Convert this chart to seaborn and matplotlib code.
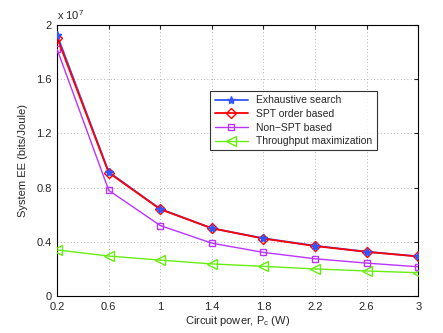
import numpy as np
import pandas as pd
import matplotlib
matplotlib.use("Agg")
import matplotlib.pyplot as plt
import seaborn as sns

pc = [0.2, 0.6, 1.0, 1.4, 1.8, 2.2, 2.6, 3.0]
exhaustive = [1.925, 0.915, 0.642, 0.50, 0.426, 0.371, 0.327, 0.293]
spt = [1.905, 0.910, 0.640, 0.50, 0.424, 0.369, 0.326, 0.292]
nonspt = [1.82, 0.78, 0.52, 0.39, 0.322, 0.275, 0.243, 0.216]
throughput = [0.34, 0.295, 0.265, 0.237, 0.219, 0.200, 0.185, 0.172]
labels = ["Exhaustive search", "SPT order based", "Non\u2212SPT based", "Throughput maximization"]
xticks = [0.2, 0.6, 1, 1.4, 1.8, 2.2, 2.6, 3]
yticks = [0, 0.4, 0.8, 1.2, 1.6, 2.0]

sns.set_style("white")
plt.rcParams['font.family'] = ['Liberation Sans', 'DejaVu Sans']

fig = plt.figure(figsize=(4.43, 3.33), dpi=100)
ax = fig.add_axes([0.129, 0.111, 0.815, 0.814])

series = [exhaustive, spt, nonspt, throughput]
colors = ["#3355ff", "#ff0000", "#bb33ff", "#66ee11"]
markers = ["*", "D", "s", "<"]
msizes = [6, 5, 5, 7]
rows = []
for lab, vals in zip(labels, series):
    for x, v in zip(pc, vals):
        rows.append({"pc": x, "ee": v * 1e7, "method": lab})
df = pd.DataFrame(rows)

order = [3, 2, 0, 1]
for i in order:
    sub = df[df.method == labels[i]]
    sns.lineplot(data=sub, x="pc", y="ee", ax=ax, color=colors[i], marker=markers[i],
                 markersize=msizes[i], markerfacecolor="none" if i != 0 else colors[i],
                 markeredgecolor=colors[i], markeredgewidth=1.0, linewidth=1.3 if i < 2 else 1.0,
                 label=labels[i], zorder=3 + i if i < 2 else 3)
# blue star markers on top of red diamonds
ax.plot(pc, [v * 1e7 for v in exhaustive], linestyle="none", marker="*", markersize=6,
        color=colors[0], zorder=6)

h, l = ax.get_legend_handles_labels()
hmap = dict(zip(l, h))
leg = ax.legend([hmap[k] for k in labels], labels, loc="upper left",
                bbox_to_anchor=(0.41, 0.775), fontsize=7.5, frameon=True, fancybox=False,
                edgecolor="black", handlelength=3.2, borderpad=0.4, labelspacing=0.35)
leg.get_frame().set_linewidth(0.8)

ax.set_xlim(0.2, 3)
ax.set_ylim(0, 2e7)
ax.set_xticks(xticks)
ax.set_xticklabels(["0.2", "0.6", "1", "1.4", "1.8", "2.2", "2.6", "3"])
ax.set_yticks([v * 1e7 for v in yticks])
ax.set_yticklabels(["0", "0.4", "0.8", "1.2", "1.6", "2"])
ax.tick_params(direction="in", labelsize=8, length=3, top=True, right=True, pad=4)
ax.grid(True, linestyle=(0, (1, 3)), color="#999999", linewidth=0.6)
for s in ax.spines.values():
    s.set_color("black")
    s.set_linewidth(0.8)
ax.set_xlabel("Circuit power, P$_\\mathregular{c}$ (W)", fontsize=8, labelpad=2)
ax.set_ylabel("System EE (bits/Joule)", fontsize=8, labelpad=6)
ax.text(0.0, 1.01, "x 10$^\\mathregular{7}$", transform=ax.transAxes, fontsize=8, ha="left", va="bottom")

fig.savefig("out.png", dpi=100)
